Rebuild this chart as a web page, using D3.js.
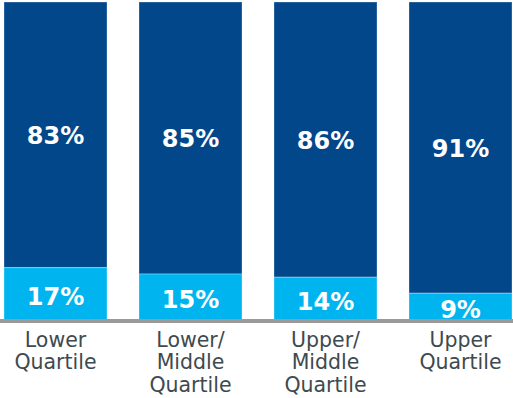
<!DOCTYPE html>
<html lang="en">
<head>
    <meta charset="utf-8">
    <title>quartile stacked bars</title>
    <script type="text/javascript" src="https://cdnjs.cloudflare.com/ajax/libs/d3/7.8.5/d3.min.js"></script>
    <style>
        body { margin: 0; background: #fff; }
    </style>
</head>
<body>
    <script type="text/javascript">
    //chart data
    var categories = ["Lower Quartile", "Lower/Middle Quartile", "Upper/Middle Quartile", "Upper Quartile"];
    var categoryLines = [["Lower", "Quartile"], ["Lower/", "Middle", "Quartile"], ["Upper/", "Middle", "Quartile"], ["Upper", "Quartile"]];
    var bottomShare = [17, 15, 14, 9];
    var topShare = [83, 85, 86, 91];

    //dimensions
    var width = 513,
        height = 398,
        baseline = 322;

    var darkBlue = "#03478b",
        lightBlue = "#00b5ef",
        axisGray = "#9a9a9a",
        labelGray = "#3e4a4f";

    var xScale = d3.scaleBand()
                   .domain(categories)
                   .range([4, 512])
                   .paddingInner(32 / 135)
                   .paddingOuter(0);

    var yScale = d3.scaleLinear()
                   .domain([0, 100])
                   .range([baseline, 2]);

    var svg = d3.select("body")
                .append("svg")
                .attr("width", width)
                .attr("height", height);

    var rows = categories.map(function(c, i) {
        return {cat: c, lines: categoryLines[i], low: bottomShare[i], high: topShare[i]};
    });

    var bars = svg.selectAll("g.bar")
                  .data(rows)
                  .enter()
                  .append("g")
                  .attr("class", "bar");

    //top (dark) segment
    bars.append("rect")
        .attr("x", function(d) { return xScale(d.cat); })
        .attr("y", function(d) { return yScale(d.low + d.high); })
        .attr("width", xScale.bandwidth())
        .attr("height", function(d) { return yScale(d.low) - yScale(d.low + d.high); })
        .attr("fill", darkBlue)
        .attr("stroke", "rgba(255,255,255,0.3)")
        .attr("stroke-width", 1);

    //bottom (light) segment
    bars.append("rect")
        .attr("x", function(d) { return xScale(d.cat); })
        .attr("y", function(d) { return yScale(d.low); })
        .attr("width", xScale.bandwidth())
        .attr("height", function(d) { return yScale(0) - yScale(d.low); })
        .attr("fill", lightBlue)
        .attr("stroke", "rgba(255,255,255,0.3)")
        .attr("stroke-width", 1);

    //value labels
    bars.append("text")
        .attr("x", function(d) { return xScale(d.cat) + xScale.bandwidth() / 2; })
        .attr("y", function(d) { return (yScale(d.low) + yScale(d.low + d.high)) / 2 + 1; })
        .attr("text-anchor", "middle")
        .attr("dominant-baseline", "central")
        .attr("fill", "#fff")
        .style("font", "bold 24px 'DejaVu Sans'")
        .text(function(d) { return d.high + "%"; });

    bars.append("text")
        .attr("x", function(d) { return xScale(d.cat) + xScale.bandwidth() / 2; })
        .attr("y", function(d) { return (yScale(d.low) + yScale(0)) / 2 + 2; })
        .attr("text-anchor", "middle")
        .attr("dominant-baseline", "central")
        .attr("fill", "#fff")
        .style("font", "bold 24px 'DejaVu Sans'")
        .text(function(d) { return d.low + "%"; });

    //baseline
    svg.append("line")
       .attr("x1", 0)
       .attr("x2", width)
       .attr("y1", 321)
       .attr("y2", 321)
       .attr("stroke", axisGray)
       .attr("stroke-width", 4);

    //category labels
    var labels = bars.append("text")
        .attr("text-anchor", "middle")
        .attr("fill", labelGray)
        .style("font", "20.5px 'DejaVu Sans'");

    labels.selectAll("tspan")
          .data(function(d) { return d.lines.map(function(l) { return {cat: d.cat, line: l}; }); })
          .enter()
          .append("tspan")
          .attr("x", function(d) { return xScale(d.cat) + xScale.bandwidth() / 2; })
          .attr("y", function(d, i) { return 347 + i * 22.3; })
          .text(function(d) { return d.line; });
    </script>
</body>
</html>
